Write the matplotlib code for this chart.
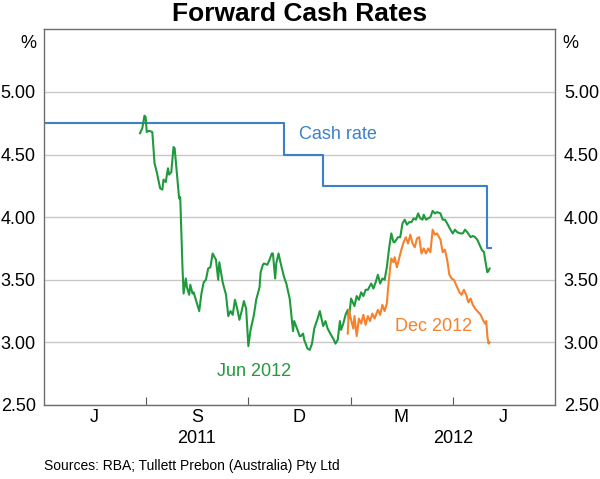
import matplotlib
matplotlib.use("Agg")
import matplotlib.pyplot as plt
import matplotlib.dates as mdates
import pandas as pd

plt.rcParams['font.family'] = ['Liberation Sans', 'DejaVu Sans']

BLUE = '#3b80ca'
GREEN = '#1f9a3c'
ORANGE = '#f5822e'

# days after 1 July 2011
base = pd.Timestamp('2011-07-01')

jun_days = [-5, -3, -1, 0, 1, 3, 6, 8, 10, 13, 15, 16, 18, 20, 21, 23, 25, 26, 28, 30,
            31, 33, 34, 36, 37, 39, 40, 42, 43, 46, 48, 50, 52, 54, 56, 58, 60, 63, 65, 66,
            69, 72, 74, 76, 78, 80, 82, 84, 86, 88, 90, 92, 94, 97, 99, 102, 103, 105, 106, 109,
            111, 113, 114, 116, 117, 119, 121, 124, 126, 129, 132, 133, 136, 138, 139, 141, 142, 145, 147, 149,
            151, 154, 156, 157, 159, 161, 163, 166, 168, 170, 172, 174, 175, 177, 179, 181, 182, 184, 186, 187,
            189, 191, 193, 195, 197, 199, 202, 204, 206, 208, 210, 212, 214, 216, 218, 220, 222, 223, 226, 228,
            230, 232, 234, 236, 238, 240, 242, 244, 246, 248, 249, 251, 253, 255, 257, 259, 261, 264, 266, 268,
            270, 273, 275, 277, 279, 282, 284, 286, 288, 291, 293, 295, 297, 299, 301, 303, 304, 306, 307, 308]
jun_rate = [4.67, 4.71, 4.81, 4.80, 4.68, 4.69, 4.68, 4.43, 4.36, 4.23, 4.22, 4.30, 4.28, 4.39, 4.34, 4.36, 4.56, 4.55, 4.35, 4.15,
            4.16, 3.60, 3.39, 3.51, 3.44, 3.38, 3.46, 3.39, 3.40, 3.31, 3.25, 3.39, 3.48, 3.50, 3.59, 3.60, 3.71, 3.66, 3.50, 3.64,
            3.48, 3.38, 3.21, 3.25, 3.22, 3.34, 3.27, 3.18, 3.25, 3.33, 3.27, 2.97, 3.10, 3.22, 3.34, 3.44, 3.56, 3.62, 3.63, 3.62,
            3.66, 3.71, 3.71, 3.51, 3.63, 3.71, 3.63, 3.52, 3.47, 3.35, 3.09, 3.17, 3.10, 3.05, 3.05, 3.07, 3.02, 2.95, 2.94, 2.99,
            3.11, 3.19, 3.25, 3.21, 3.13, 3.17, 3.11, 3.06, 3.03, 2.99, 3.02, 3.17, 3.10, 3.15, 3.22, 3.26, 3.19, 3.35, 3.31, 3.29,
            3.37, 3.34, 3.40, 3.37, 3.42, 3.42, 3.47, 3.43, 3.48, 3.54, 3.47, 3.51, 3.50, 3.60, 3.75, 3.87, 3.80, 3.80, 3.84, 3.84,
            3.95, 3.98, 3.94, 3.96, 3.96, 3.99, 3.98, 4.03, 3.99, 3.98, 4.02, 3.98, 3.99, 4.00, 4.05, 4.03, 4.04, 4.03, 3.98, 3.98,
            3.95, 3.90, 3.87, 3.90, 3.88, 3.87, 3.87, 3.90, 3.88, 3.84, 3.85, 3.84, 3.82, 3.78, 3.74, 3.72, 3.66, 3.56, 3.57, 3.59]

dec_days = [181, 182, 184, 186, 187, 189, 191, 193, 195, 197, 199, 201, 203, 205, 208, 210, 212, 214, 216, 217,
            219, 220, 222, 223, 225, 227, 229, 231, 233, 235, 237, 239, 241, 243, 245, 247, 249, 251, 253, 255,
            257, 259, 261, 264, 266, 268, 270, 272, 274, 276, 279, 281, 283, 285, 287, 289, 291, 293, 295, 297,
            300, 302, 304, 305, 306, 307, 308]
dec_rate = [3.07, 3.26, 3.18, 3.11, 3.21, 3.05, 3.19, 3.15, 3.22, 3.14, 3.21, 3.17, 3.23, 3.19, 3.26, 3.22, 3.30, 3.25, 3.31, 3.42,
            3.60, 3.67, 3.64, 3.68, 3.60, 3.67, 3.74, 3.80, 3.84, 3.79, 3.86, 3.79, 3.76, 3.83, 3.84, 3.71, 3.75, 3.71, 3.75, 3.72,
            3.90, 3.86, 3.87, 3.82, 3.72, 3.74, 3.66, 3.54, 3.51, 3.50, 3.44, 3.40, 3.38, 3.42, 3.38, 3.32, 3.35, 3.30, 3.27, 3.25,
            3.22, 3.18, 3.15, 3.17, 3.05, 2.99, 3.00]

cash_dates = ['2011-04-01', '2011-11-02', '2011-12-07', '2012-05-02', '2012-05-05']
cash_rate = [4.75, 4.50, 4.25, 3.75, 3.75]

quarter_edges = ['2011-07-01', '2011-10-01', '2012-01-01', '2012-04-01']
quarter_mids = ['2011-05-16', '2011-08-16', '2011-11-15', '2012-02-15', '2012-05-16']
quarter_labels = ['J', 'S', 'D', 'M', 'J']
year_pos = ['2011-08-16', '2012-04-01']
year_labels = ['2011', '2012']

jun_dates = base + pd.to_timedelta(jun_days, unit='D')
dec_dates = base + pd.to_timedelta(dec_days, unit='D')

fig = plt.figure(figsize=(6, 4.79), dpi=100)
ax = fig.add_axes([0.0733, 0.1545, 0.8525, 0.7843])

ax.step(pd.to_datetime(cash_dates), cash_rate, where='post', color=BLUE, lw=1.5)
ax.plot(jun_dates, jun_rate, color=GREEN, lw=1.5)
ax.plot(dec_dates, dec_rate, color=ORANGE, lw=1.5)

ax.set_ylim(2.5, 5.5)
ax.set_xlim(pd.Timestamp('2011-04-01'), pd.Timestamp('2012-07-02'))
yt = [2.5, 3.0, 3.5, 4.0, 4.5, 5.0]
ax.set_yticks(yt)
ax.set_yticklabels(['%.2f' % v for v in yt])
ax.tick_params(axis='y', length=0, labelsize=13, pad=6, labelright=True, right=False)
ax.yaxis.grid(True, color='#c8c8c8', lw=1)
ax.set_axisbelow(True)

ax.set_xticks(pd.to_datetime(quarter_edges))
ax.set_xticklabels([])
ax.set_xticks(pd.to_datetime(quarter_mids), minor=True)
ax.set_xticklabels(quarter_labels, minor=True)
ax.tick_params(axis='x', which='major', direction='in', length=5.5, color='#555555')
ax.tick_params(axis='x', which='minor', length=0, labelsize=13, pad=3)

for s in ax.spines.values():
    s.set_color('#6e6e6e')
    s.set_linewidth(1)

for pos, lab in zip(year_pos, year_labels):
    ax.annotate(lab, xy=(pd.Timestamp(pos), -0.088), xycoords=('data', 'axes fraction'),
                ha='center', va='center', fontsize=13)

ax.text(-0.015, 0.9635, '%', transform=ax.transAxes, ha='right', va='center', fontsize=13)
ax.text(1.0127, 0.9635, '%', transform=ax.transAxes, ha='left', va='center', fontsize=13)

ax.text(pd.Timestamp('2011-11-15'), 4.66, 'Cash rate', color=BLUE, fontsize=13, va='center')
ax.text(pd.Timestamp('2012-02-09'), 3.13, 'Dec 2012', color=ORANGE, fontsize=13, va='center')
ax.text(pd.Timestamp('2011-09-03'), 2.77, 'Jun 2012', color=GREEN, fontsize=13, va='center')

fig.text(0.5, 0.971, 'Forward Cash Rates', ha='center', va='center', fontsize=19, fontweight='bold')
fig.text(0.0733, 0.027, 'Sources: RBA; Tullett Prebon (Australia) Pty Ltd', ha='left', va='center', fontsize=10)

fig.savefig('out.png', dpi=100)
